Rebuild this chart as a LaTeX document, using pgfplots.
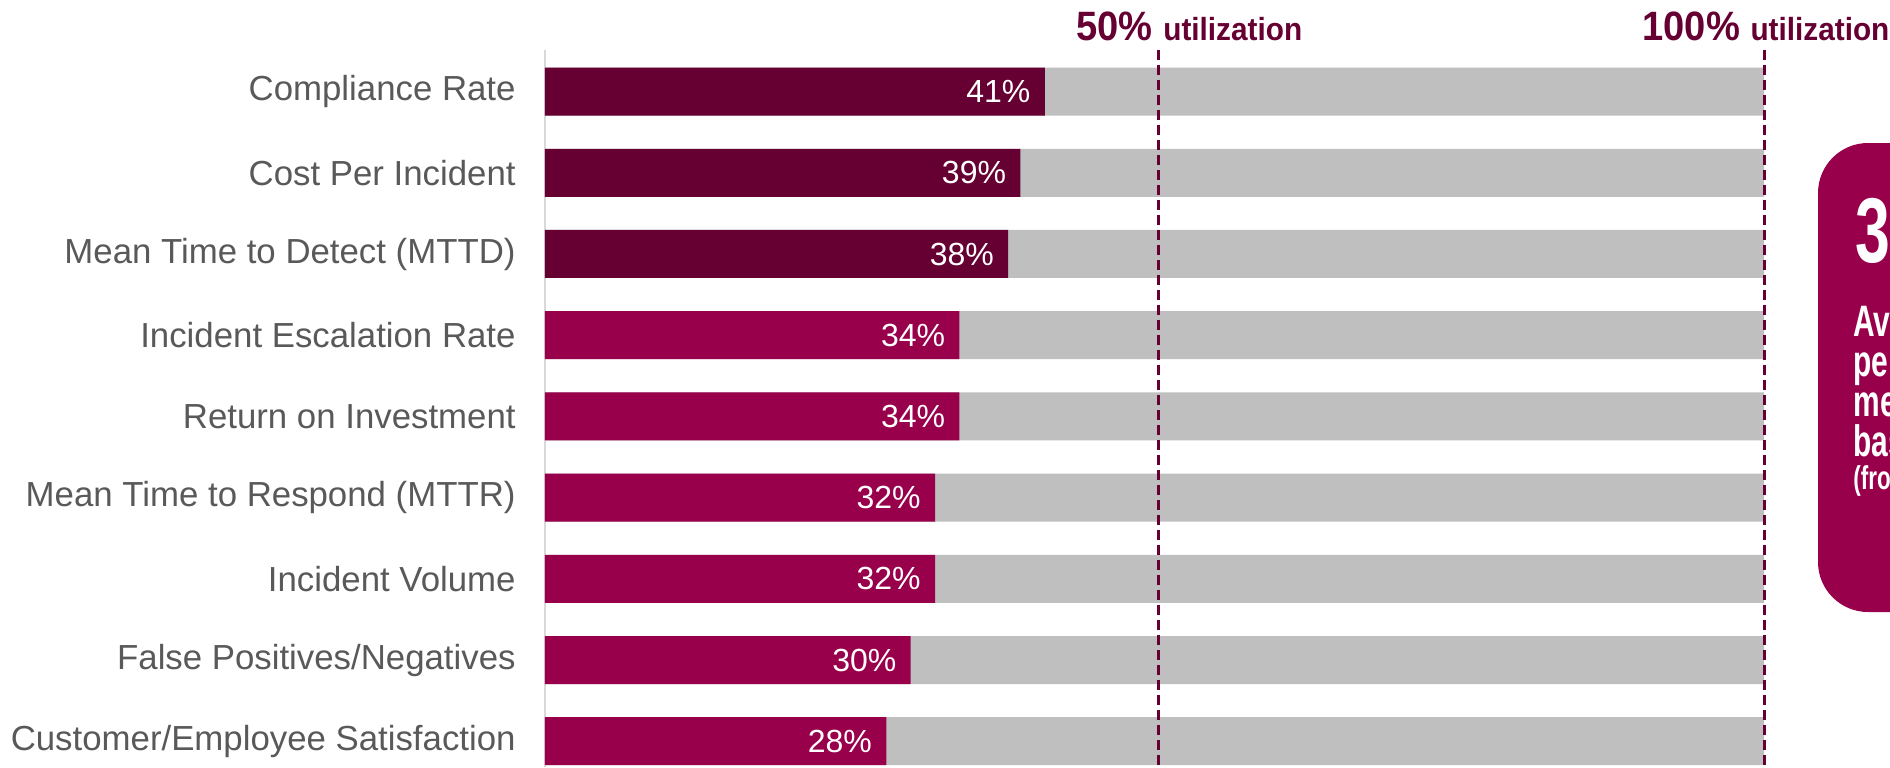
\documentclass[border=0pt]{standalone}
\usepackage{pgfplots}
\pgfplotsset{compat=1.18}
\usepackage{fontspec}
\setmainfont{Liberation Sans}
\newfontfamily\narrowfont[FakeStretch=0.93]{Liberation Sans}
\newfontfamily\boxfont[FakeStretch=0.68]{Liberation Sans}
\definecolor{darkm}{HTML}{660033}
\definecolor{brightm}{HTML}{99004C}
\definecolor{barg}{HTML}{BFBFBF}
\definecolor{labg}{HTML}{595959}
\definecolor{axg}{HTML}{D9D9D9}
\pgfplotsset{
  vallab/.style={
    nodes near coords={\pgfmathprintnumber[assume math mode=true]{\pgfplotspointmeta}\%},
    point meta=x,
    every node near coord/.append style={anchor=east, text=white, inner sep=0pt, xshift=-7pt,
      font=\fontsize{16}{16}\selectfont},
  }
}
\begin{document}
\begin{tikzpicture}[x=1pt,y=1pt]
\path[use as bounding box] (0pt,0pt) rectangle (945pt,-383.5pt);
\clip (0pt,0pt) rectangle (945pt,-383.5pt);
\begin{axis}[
  at={(272.5pt,-25pt)}, anchor=north west,
  scale only axis, width=609.5pt, height=358.5pt,
  xmin=0, xmax=100, ymin=-0.512, ymax=8.318, y dir=reverse,
  axis x line=none, axis y line*=left,
  y axis line style={draw=axg, line width=1pt, -},
  ytick={0,...,8},
  yticklabels={Compliance Rate, Cost Per Incident, Mean Time to Detect (MTTD),
    Incident Escalation Rate, Return on Investment, Mean Time to Respond (MTTR),
    Incident Volume, False Positives/Negatives, Customer/Employee Satisfaction},
  major tick length=0pt,
  yticklabel style={font=\fontsize{17.4}{18}\selectfont, text=labg, anchor=east, inner sep=0pt, xshift=-14.5pt},
  /pgf/number format/assume math mode=true,
  xbar, bar shift=0pt, bar width=24pt,
  clip=false,
]
\addplot[xbar, bar shift=0pt, fill=barg, draw=none] coordinates
  {(100,0) (100,1) (100,2) (100,3) (100,4) (100,5) (100,6) (100,7) (100,8)};
\addplot[xbar, bar shift=0pt, fill=darkm, draw=none, vallab] coordinates
  {(41,0) (39,1) (38,2)};
\addplot[xbar, bar shift=0pt, fill=brightm, draw=none, vallab] coordinates
  {(34,3) (34,4) (32,5) (32,6) (30,7) (28,8)};
\draw[darkm, line width=1.5pt, dash pattern=on 5pt off 2.5pt] (axis cs:50.35,-0.512) -- (axis cs:50.35,8.318);
\draw[darkm, line width=1.5pt, dash pattern=on 5pt off 2.5pt] (axis cs:100,-0.512) -- (axis cs:100,8.318);
\end{axis}
\node[anchor=base west, text=darkm, inner sep=0pt] at (538pt,-20pt)
  {\narrowfont\bfseries\fontsize{20.5}{21}\selectfont 50\% {\fontsize{16}{16}\selectfont utilization}};
\node[anchor=base west, text=darkm, inner sep=0pt] at (821pt,-20pt)
  {\narrowfont\bfseries\fontsize{20.5}{21}\selectfont 100\% {\fontsize{16}{16}\selectfont utilization}};
\fill[brightm, rounded corners=25pt] (909pt,-71.5pt) rectangle (1000pt,-306pt);
\node[anchor=base west, inner sep=0pt, text=white] at (927.5pt,-131pt)
  {\boxfont\bfseries\fontsize{46}{46}\selectfont 34\%};
\node[anchor=base west, inner sep=0pt, text=white] at (926.5pt,-168pt)
  {\boxfont\bfseries\fontsize{22}{22}\selectfont Average};
\node[anchor=base west, inner sep=0pt, text=white] at (926.5pt,-188pt)
  {\boxfont\bfseries\fontsize{22}{22}\selectfont percentage of};
\node[anchor=base west, inner sep=0pt, text=white] at (926.5pt,-208pt)
  {\boxfont\bfseries\fontsize{22}{22}\selectfont metrics};
\node[anchor=base west, inner sep=0pt, text=white] at (926.5pt,-228pt)
  {\boxfont\bfseries\fontsize{22}{22}\selectfont based on};
\node[anchor=base west, inner sep=0pt, text=white] at (926.5pt,-244.5pt)
  {\boxfont\bfseries\fontsize{16.5}{16.5}\selectfont (from survey)};
\end{tikzpicture}
\end{document}
